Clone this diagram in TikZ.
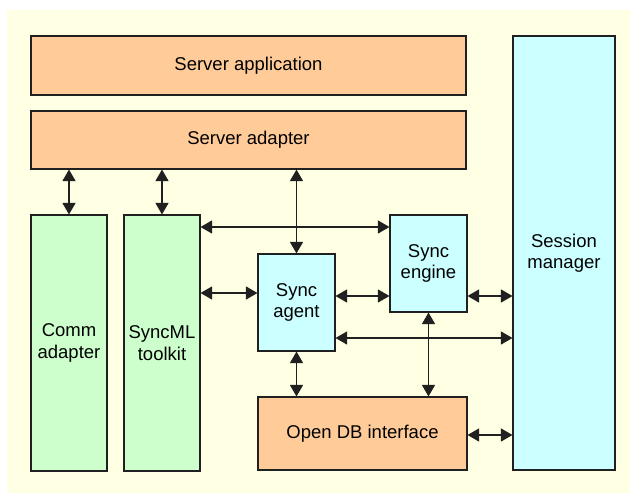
\documentclass[tikz,border=0pt]{standalone}
\usepackage{fontspec}
\setmainfont{Liberation Sans}
\usetikzlibrary{arrows.meta}
\definecolor{bgcream}{HTML}{FFFFE3}
\definecolor{orangebox}{HTML}{FFCC99}
\definecolor{greenbox}{HTML}{CCFFCC}
\definecolor{cyanbox}{HTML}{CCFFFF}
\definecolor{edgegray}{HTML}{202020}
\tikzset{
  blk/.style={draw=edgegray, line width=1.1pt, align=center, inner sep=0pt,
    font=\fontsize{18.5}{21.5}\selectfont},
  orangeblk/.style={blk, fill=orangebox},
  greenblk/.style={blk, fill=greenbox},
  cyanblk/.style={blk, fill=cyanbox},
  link/.style={line width=1.2pt, draw=edgegray, {Triangle[length=11.5pt,width=13pt]}-{Triangle[length=11.5pt,width=13pt]}}
}
\begin{document}
\begin{tikzpicture}[x=1pt,y=-1pt]
\useasboundingbox (0,0) rectangle (630,493);
\fill[bgcream] (7,10) rectangle (630,493);
\node[orangeblk, minimum width=435pt, minimum height=59pt] (sapp) at (248.5,65.5) {Server application};
\node[orangeblk, minimum width=435pt, minimum height=58pt] (sadp) at (248.5,140) {Server adapter};
\node[greenblk, minimum width=76pt, minimum height=256pt] (comm) at (69,343) {Comm\\adapter};
\node[greenblk, minimum width=76pt, minimum height=256pt] (tool) at (162,343) {SyncML\\toolkit};
\node[cyanblk, minimum width=77pt, minimum height=97pt] (agent) at (296.5,302.5) {Sync\\agent};
\node[cyanblk, minimum width=77pt, minimum height=97pt] (engine) at (428.5,263.5) {Sync\\engine};
\node[orangeblk, minimum width=209pt, minimum height=73pt] (odb) at (362.5,433.5) {Open DB interface};
\node[cyanblk, minimum width=102pt, minimum height=434pt] (sess) at (564,253) {Session\\manager};
\coordinate (ya) at (0,227);
\coordinate (yb) at (0,293);
\coordinate (yc) at (0,296);
\coordinate (yd) at (0,338);
\coordinate (ye) at (0,435);
\draw[link] (sadp.south -| comm.north) -- (comm.north);
\draw[link] (sadp.south -| tool.north) -- (tool.north);
\draw[link] (sadp.south -| agent.north) -- (agent.north);
\draw[link] (tool.east |- ya) -- (engine.west |- ya);
\draw[link] (tool.east |- yb) -- (agent.west |- yb);
\draw[link] (agent.east |- yc) -- (engine.west |- yc);
\draw[link] (engine.east |- yc) -- (sess.west |- yc);
\draw[link] (agent.east |- yd) -- (sess.west |- yd);
\draw[link] (agent.south) -- (agent.south |- odb.north);
\draw[link] (engine.south) -- (engine.south |- odb.north);
\draw[link] (odb.east |- ye) -- (sess.west |- ye);
\end{tikzpicture}
\end{document}
